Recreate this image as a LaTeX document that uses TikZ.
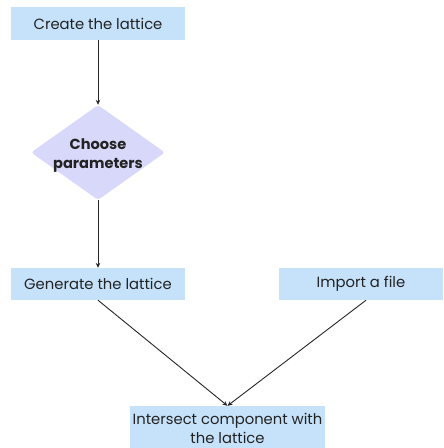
\documentclass[tikz,border=0pt]{standalone}
\usepackage{fontspec}
\setmainfont{Poppins}
\usetikzlibrary{shapes.geometric,arrows.meta}
\definecolor{boxblue}{RGB}{197,226,250}
\definecolor{lav}{RGB}{216,216,250}
\definecolor{txt}{RGB}{35,35,35}
\begin{document}
\begin{tikzpicture}[x=1pt,y=-1pt,
  stepbox/.style={fill=boxblue,draw=none,inner sep=0pt,text=txt,font=\fontsize{14.8}{19}\selectfont,align=center},
  decide/.style={diamond,fill=lav,draw=none,inner sep=0pt,minimum width=134pt,minimum height=95pt,rounded corners=3pt},
  decidetext/.style={text=txt,font=\fontsize{14.6}{19}\selectfont\bfseries,align=center,inner sep=0pt,yshift=-3pt},
  conn/.style={draw=black!85,line width=0.9pt,-{Stealth[length=5pt,width=4.5pt]}}]
\useasboundingbox (0,0) rectangle (444,448);
\node[stepbox,minimum width=174pt,minimum height=33pt] (create) at (98,23.5) {Create the lattice};
\node[decide,label={[decidetext]center:Choose\\parameters}] (choose) at (98,152.5) {};
\node[stepbox,minimum width=174pt,minimum height=32pt] (gen) at (98,284) {Generate the lattice};
\node[stepbox,minimum width=164pt,minimum height=32pt] (imp) at (361,284) {Import a file};
\node[stepbox,minimum width=195pt,minimum height=44pt] (int) at (227.5,428) {Intersect component with\\the lattice};
\draw[conn] (create.south) -- (choose.north);
\draw[conn] (choose.south) -- (gen.north);
\draw[conn] (gen.south) -- (int.north);
\draw[conn] ([xshift=5pt]imp.south) -- (int.north);
\end{tikzpicture}
\end{document}
